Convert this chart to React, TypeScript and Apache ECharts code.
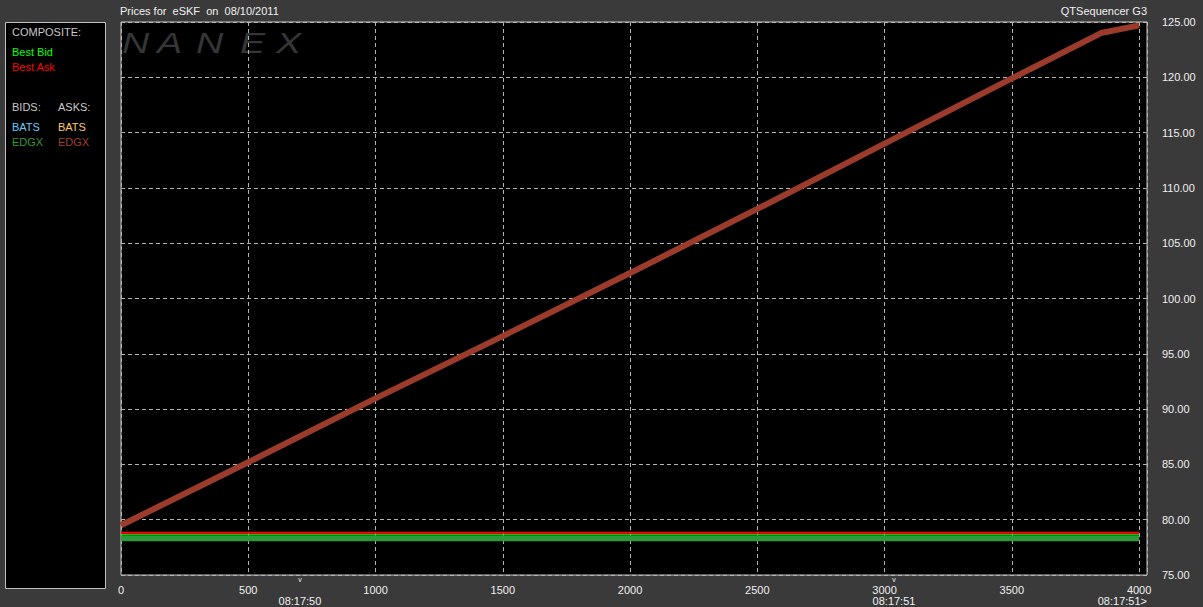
import React, { useEffect, useRef } from "react";
import * as echarts from "echarts";

// ---- data ----
const askX = [0, 500, 1000, 1500, 2000, 2500, 3000, 3500, 3850, 4000];
const edgxAsk = [79.5, 85.2, 90.97, 96.6, 102.3, 108.1, 114.0, 119.9, 124.0, 124.7];
const flatX = [0, 4000];
const bestAsk = [78.83, 78.83];
const bestBid = [78.68, 78.68];
const edgxBid = [78.33, 78.33];
const yTicks = { min: 75, max: 125, step: 5 };
const xTicks = { min: 0, max: 4031, step: 500 };
const timeMarks = [
  { x: 703, label: "08:17:50" },
  { x: 3037, label: "08:17:51" },
];
const endTimeLabel = "08:17:51>";
const titleText = "Prices for  eSKF  on  08/10/2011";
const sourceText = "QTSequencer G3";
const legendRows = [
  { text: "COMPOSITE:", color: "#c8c8c8", col: 0, row: 0 },
  { text: "Best Bid", color: "#00ff00", col: 0, row: 1 },
  { text: "Best Ask", color: "#ff0000", col: 0, row: 2 },
  { text: "BIDS:", color: "#c8c8c8", col: 0, row: 3 },
  { text: "ASKS:", color: "#c8c8c8", col: 1, row: 3 },
  { text: "BATS", color: "#66ccff", col: 0, row: 4 },
  { text: "BATS", color: "#ffcc66", col: 1, row: 4 },
  { text: "EDGX", color: "#339933", col: 0, row: 5 },
  { text: "EDGX", color: "#a0402f", col: 1, row: 5 },
];
const legendRowY = [32, 52, 67, 107, 127, 142];
const watermark = ["N", "A", "N", "E", "X"];
const watermarkX = [122, 157, 196, 240, 276];

const FONT = "'Liberation Sans', Arial, sans-serif";

const pairs = (xs: number[], ys: number[]) => xs.map((x, i) => [x, ys[i]]);

export default function App() {
  const ref = useRef<HTMLDivElement>(null);
  useEffect(() => {
    if (!ref.current) return;
    const chart = echarts.init(ref.current, null, { renderer: "svg" });
    const lineSeries = (name: string, data: number[][], color: string, width: number, z: number) => ({
      type: "line",
      name,
      data,
      symbol: "none",
      z,
      lineStyle: { color, width, cap: "butt" },
      itemStyle: { color },
    });
    const baseGraphics: any[] = [
      {
        type: "text",
        left: 120,
        top: 5,
        style: { text: titleText, fill: "#f0f0f0", font: `11px ${FONT}` },
      },
      {
        type: "text",
        right: 1203 - 1147,
        top: 5,
        style: { text: sourceText, fill: "#f0f0f0", font: `11px ${FONT}` },
      },
      {
        type: "rect",
        shape: { x: 5.5, y: 22.5, width: 100, height: 566 },
        style: { fill: "#000", stroke: "#c0c0c0", lineWidth: 1 },
      },
      ...legendRows.map((r) => ({
        type: "text",
        x: r.col === 0 ? 12 : 58,
        y: legendRowY[r.row],
        style: { text: r.text, fill: r.color, font: `11px ${FONT}`, verticalAlign: "middle" },
      })),
      ...watermark.map((ch, i) => ({
        type: "text",
        x: watermarkX[i],
        y: 43,
        z: 0,
        scaleX: 1.3,
        style: {
          text: ch,
          fill: "#363636",
          font: `italic 29px ${FONT}`,
          verticalAlign: "middle",
        },
      })),
    ];
    const option: any = {
      animation: false,
      backgroundColor: "#3a3a3a",
      grid: {
        left: 121,
        top: 22,
        right: 1203 - 1147,
        bottom: 607 - 575,
        show: true,
        backgroundColor: "#000",
        borderColor: "#c8c8c8",
        borderWidth: 1,
      },
      xAxis: {
        type: "value",
        min: xTicks.min,
        max: xTicks.max,
        interval: xTicks.step,
        axisLine: { show: false },
        axisTick: { show: false },
        axisLabel: {
          color: "#f0f0f0",
          fontSize: 11,
          fontFamily: FONT,
          margin: 9,
          formatter: (v: number) => (v % xTicks.step === 0 ? String(v) : ""),
        },
        splitLine: { show: true, lineStyle: { color: "#b4b4b4", type: [4, 3], width: 1 } },
      },
      yAxis: {
        type: "value",
        position: "right",
        min: yTicks.min,
        max: yTicks.max,
        interval: yTicks.step,
        axisLine: { show: false },
        axisTick: { show: false },
        axisLabel: {
          color: "#f0f0f0",
          fontSize: 11,
          fontFamily: FONT,
          margin: 15,
          formatter: (v: number) => v.toFixed(2),
        },
        splitLine: { show: true, lineStyle: { color: "#b4b4b4", type: [4, 3], width: 1 } },
      },
      series: [
        lineSeries("EDGX Bid", pairs(flatX, edgxBid), "#2f9a3c", 6, 3),
        lineSeries("Best Bid", pairs(flatX, bestBid), "#00ff00", 1, 4),
        lineSeries("Best Ask", pairs(flatX, bestAsk), "#ff0000", 2, 5),
        lineSeries("EDGX Ask", pairs(askX, edgxAsk), "#9b3b2b", 6, 6),
      ],
      graphic: baseGraphics,
    };
    chart.setOption(option);

    const px = (v: number) => chart.convertToPixel({ xAxisIndex: 0 } as any, v) as number;
    const extra: any[] = [];
    timeMarks.forEach((m) => {
      const x = px(m.x);
      extra.push({
        type: "text",
        x,
        y: 576,
        style: { text: "v", fill: "#f0f0f0", font: `7px ${FONT}`, align: "center", verticalAlign: "top" },
      });
      extra.push({
        type: "text",
        x,
        y: 601,
        style: { text: m.label, fill: "#f0f0f0", font: `11px ${FONT}`, align: "center", verticalAlign: "middle" },
      });
    });
    extra.push({
      type: "text",
      x: px(xTicks.max),
      y: 601,
      style: { text: endTimeLabel, fill: "#f0f0f0", font: `11px ${FONT}`, align: "right", verticalAlign: "middle" },
    });
    chart.setOption({ graphic: [...baseGraphics, ...extra] });

    return () => chart.dispose();
  }, []);
  return (
    <div
      ref={ref}
      style={{ position: "fixed", left: 0, top: 0, width: 1203, height: 607, background: "#3a3a3a" }}
    />
  );
}
